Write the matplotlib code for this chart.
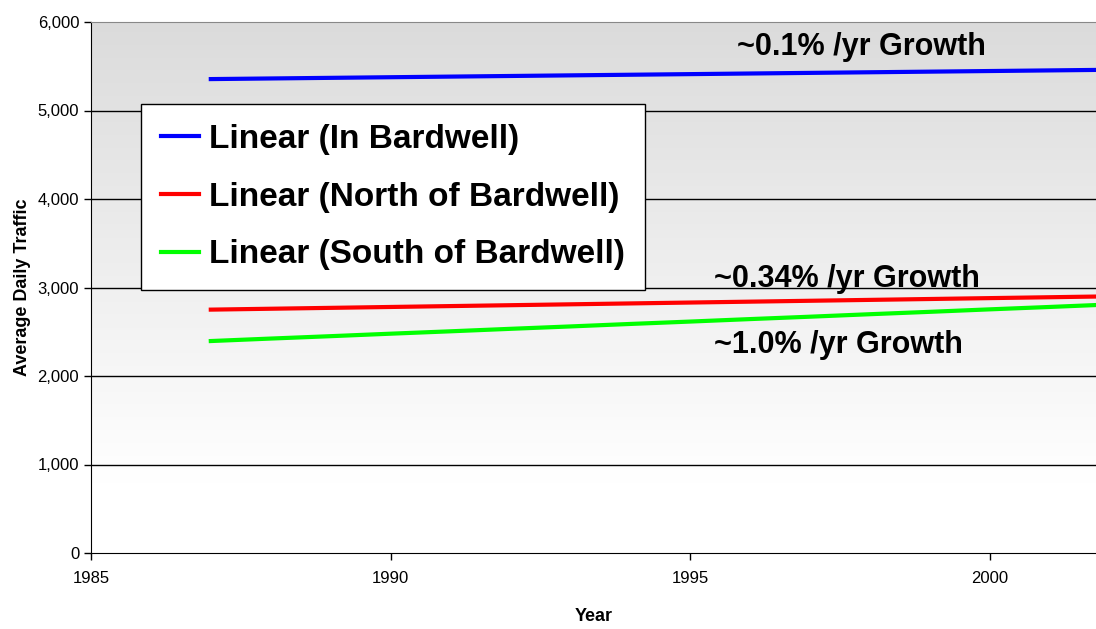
import numpy as np
import matplotlib.pyplot as plt

plt.rcParams['font.family'] = ['Liberation Sans', 'DejaVu Sans']

years = list(range(1987, 2003))
in_bardwell = [5355, 5362, 5369, 5376, 5383, 5390, 5397, 5404, 5411, 5418, 5425, 5432, 5439, 5446, 5453, 5460]
north_bardwell = [2750, 2760, 2770, 2780, 2790, 2800, 2810, 2820, 2830, 2840, 2850, 2860, 2870, 2880, 2890, 2900]
south_bardwell = [2395, 2423, 2450, 2478, 2505, 2533, 2560, 2588, 2615, 2643, 2670, 2698, 2725, 2753, 2780, 2808]

series_labels = ["Linear (In Bardwell)", "Linear (North of Bardwell)", "Linear (South of Bardwell)"]
growth_labels = ["~0.1% /yr Growth", "~0.34% /yr Growth", "~1.0% /yr Growth"]
y_ticks = [0, 1000, 2000, 3000, 4000, 5000, 6000]
x_ticks = [1985, 1990, 1995, 2000]

fig = plt.figure(figsize=(10.96, 6.29), dpi=100)
ax = fig.add_axes([91 / 1096, 76 / 629, 1005 / 1096, 531 / 629])

x_min, x_max = 1985, 1985 + 1005 / 59.9
ax.set_xlim(x_min, x_max)
ax.set_ylim(0, 6000)

# グラデーション背景 (下は白、上に行くほど灰色)
v = np.linspace(0, 6000, 300).reshape(-1, 1)
shade = np.clip((v - 800) / 5200, 0, 1)
colors = 1.0 - 0.14 * shade
img = np.dstack([colors, colors, colors])
ax.imshow(img, extent=[x_min, x_max, 0, 6000], aspect='auto', zorder=0, origin='lower')

for yv in y_ticks[1:-1]:
    ax.axhline(yv, color='black', linewidth=1, zorder=1)

l1, = ax.plot(years, in_bardwell, color='#0000ff', linewidth=3, zorder=3)
l2, = ax.plot(years, north_bardwell, color='#ff0000', linewidth=3, zorder=3)
l3, = ax.plot(years, south_bardwell, color='#00ff00', linewidth=3, zorder=3)

ax.text(1995.78, 5627, growth_labels[0], fontsize=22, fontweight='bold', zorder=4)
ax.text(1995.4, 3006, growth_labels[1], fontsize=22, fontweight='bold', zorder=4)
ax.text(1995.4, 2260, growth_labels[2], fontsize=22, fontweight='bold', zorder=4)

leg = ax.legend([l1, l2, l3], series_labels, loc='upper left',
                bbox_to_anchor=(50 / 1005, 1 - 82 / 531),
                prop={'size': 24, 'weight': 'bold'}, frameon=True, fancybox=False,
                handlelength=1.15, handletextpad=0.3, borderpad=0.6, labelspacing=0.8,
                borderaxespad=0)
leg.get_frame().set_edgecolor('black')
leg.get_frame().set_linewidth(1)
leg.get_frame().set_facecolor('white')
leg.get_frame().set_alpha(1)
leg.set_zorder(5)

ax.set_yticks(y_ticks)
ax.set_yticklabels([f"{v:,}" for v in y_ticks], fontsize=12)
ax.set_xticks(x_ticks)
ax.set_xticklabels([str(v) for v in x_ticks], fontsize=12)
ax.tick_params(axis='both', direction='out', length=5, width=1, color='black')
ax.tick_params(axis='x', pad=8)

ax.spines['right'].set_visible(False)
ax.spines['top'].set_color('#888888')
ax.spines['left'].set_color('black')
ax.spines['bottom'].set_color('black')

ax.set_ylabel("Average Daily Traffic", fontsize=13, fontweight='bold', labelpad=5)
ax.set_xlabel("Year", fontsize=13, fontweight='bold', labelpad=16)

plt.savefig("out.png", dpi=100)
